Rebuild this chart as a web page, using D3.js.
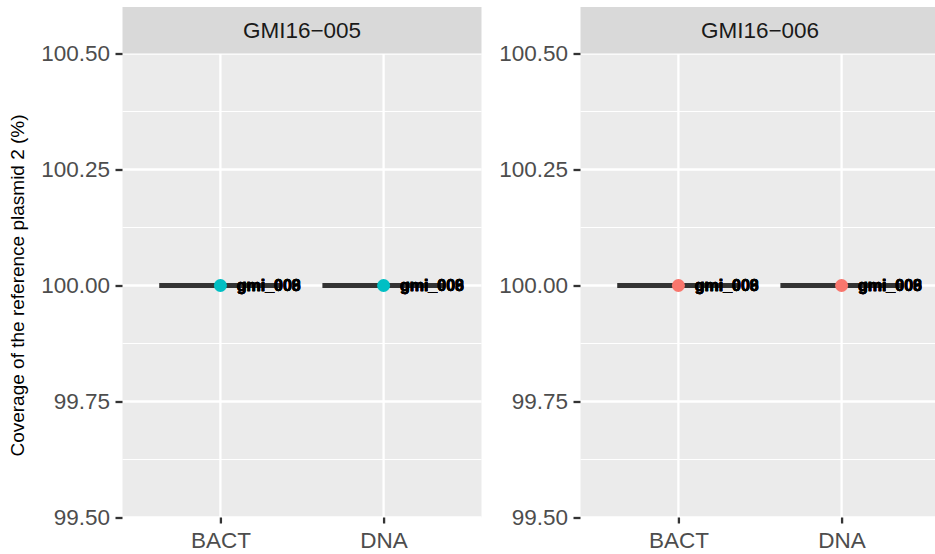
<!DOCTYPE html>
<html>
<head>
<meta charset="utf-8">
<script src="https://cdn.jsdelivr.net/npm/d3@7/dist/d3.min.js"></script>
<style>
  html, body { margin: 0; padding: 0; background: #ffffff; }
  svg { display: block; font-family: "Liberation Sans", Arial, Helvetica, sans-serif; }
</style>
</head>
<body>
<svg id="chart" width="935" height="554"></svg>
<script>
// Isolates shown as facets, with the colour used for their summary point
const facets = ["GMI16\u2212005", "GMI16\u2212006"];
const facetColors = ["#00BFC4", "#F8766D"];
// Extraction methods on the x axis
const methods = ["BACT", "DNA"];
// Coverage (%) of reference plasmid 2, per facet and method
const coverage005 = [100, 100];
const coverage006 = [100, 100];
const coverageByFacet = [coverage005, coverage006];
// Sample labels written next to each summary point (all at 100 %)
const sampleLabels = ["gmi_006", "gmi_008", "gmi_009"];
// Y axis ticks
const yTicks = [99.5, 99.75, 100, 100.25, 100.5];
const yMinorTicks = [99.625, 99.875, 100.125, 100.375];

const svg = d3.select("#chart");

const panelTop = 53.5, panelBottom = 517.5, stripTop = 7;
const panelWidth = 359;
const panelLefts = [122.5, 580.5];

const y = d3.scaleLinear().domain([99.5, 100.5]).range([panelBottom, panelTop]);
const fmt = d3.format(".2f");

svg.append("defs").append("clipPath").attr("id", "page")
  .append("rect").attr("x", 0).attr("y", 0).attr("width", 935).attr("height", 554);

const root = svg.append("g").attr("clip-path", "url(#page)");

facets.forEach((facet, fi) => {
  const left = panelLefts[fi];
  const right = left + panelWidth;
  const x = d3.scalePoint().domain(methods).range([left, right]).padding(0.6);
  const step = x.step();
  const g = root.append("g");

  // panel background
  g.append("rect")
    .attr("x", left).attr("y", panelTop)
    .attr("width", panelWidth).attr("height", panelBottom - panelTop)
    .attr("fill", "#EBEBEB");

  // minor grid
  g.selectAll(".minor").data(yMinorTicks).enter().append("line")
    .attr("x1", left).attr("x2", right)
    .attr("y1", d => y(d)).attr("y2", d => y(d))
    .attr("stroke", "#ffffff").attr("stroke-width", 1.2);

  // major grid
  g.selectAll(".major").data(yTicks).enter().append("line")
    .attr("x1", left).attr("x2", right)
    .attr("y1", d => y(d)).attr("y2", d => y(d))
    .attr("stroke", "#ffffff").attr("stroke-width", 2.3);
  g.selectAll(".vmajor").data(methods).enter().append("line")
    .attr("x1", d => x(d)).attr("x2", d => x(d))
    .attr("y1", panelTop).attr("y2", panelBottom)
    .attr("stroke", "#ffffff").attr("stroke-width", 2.3);

  // strip
  g.append("rect")
    .attr("x", left).attr("y", stripTop)
    .attr("width", panelWidth).attr("height", panelTop - stripTop)
    .attr("fill", "#D9D9D9");
  g.append("text")
    .attr("x", left + panelWidth / 2).attr("y", (stripTop + panelTop) / 2 + 8)
    .attr("text-anchor", "middle")
    .attr("font-size", 22.5).attr("fill", "#1A1A1A")
    .text(facet);

  // y axis
  const yAxis = d3.axisLeft(y).tickValues(yTicks).tickFormat(fmt)
    .tickSize(7).tickPadding(5.5);
  const ya = g.append("g").attr("transform", `translate(${left},0)`).call(yAxis);
  ya.select(".domain").remove();
  ya.selectAll(".tick line").attr("stroke", "#333333").attr("stroke-width", 2.3);
  ya.selectAll(".tick text").attr("fill", "#4D4D4D").attr("font-size", 22.5)
    .attr("font-family", "Liberation Sans, Arial, sans-serif");

  // x axis
  const xAxis = d3.axisBottom(x).tickSize(6).tickPadding(9);
  const xa = g.append("g").attr("transform", `translate(0,${panelBottom})`).call(xAxis);
  xa.select(".domain").remove();
  xa.selectAll(".tick line").attr("stroke", "#333333").attr("stroke-width", 2.3);
  xa.selectAll(".tick text").attr("fill", "#4D4D4D").attr("font-size", 22.5)
    .attr("font-family", "Liberation Sans, Arial, sans-serif");

  const values = coverageByFacet[fi];
  const boxW = step * 0.75;

  // collapsed boxplots (zero spread): median drawn as a thick line
  g.selectAll(".box").data(methods).enter().append("line")
    .attr("x1", d => x(d) - boxW / 2).attr("x2", d => x(d) + boxW / 2)
    .attr("y1", (d, i) => y(values[i])).attr("y2", (d, i) => y(values[i]))
    .attr("stroke", "#333333").attr("stroke-width", 5);

  // summary points
  g.selectAll(".pt").data(methods).enter().append("circle")
    .attr("cx", d => x(d)).attr("cy", (d, i) => y(values[i]))
    .attr("r", 6.5).attr("fill", facetColors[fi]);

  // sample labels, overlapping at the same value
  methods.forEach((m, mi) => {
    g.selectAll(null).data(sampleLabels).enter().append("text")
      .attr("x", x(m) + step * 0.1)
      .attr("y", y(values[mi]) + 5.5)
      .attr("font-size", 16).attr("font-weight", "bold")
      .attr("fill", "#000000")
      .attr("stroke", "#000000").attr("stroke-width", 0.4)
      .text(d => d);
  });
});

// y axis title
svg.append("text")
  .attr("transform", `translate(24,${(panelTop + panelBottom) / 2}) rotate(-90)`)
  .attr("text-anchor", "middle")
  .attr("font-size", 19).attr("fill", "#000000")
  .text("Coverage of the reference plasmid 2 (%)");
</script>
</body>
</html>
